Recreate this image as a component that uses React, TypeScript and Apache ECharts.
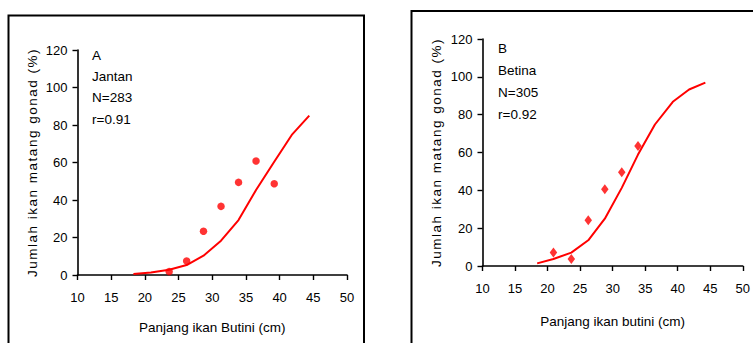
import React, { useEffect, useRef } from "react";
import * as echarts from "echarts";

// Panel A (Jantan)
const lengthsA = [23.6, 26.2, 28.7, 31.3, 33.9, 36.5, 39.2];
const observedA = [1.8, 7.5, 23.3, 36.6, 49.4, 60.8, 48.7];
const curveLengthsA = [18.3, 20.9, 23.6, 26.2, 28.7, 31.3, 33.9, 36.5, 39.2, 41.8, 44.4];
const fittedA = [0.5, 1.3, 2.8, 5.3, 10.3, 18.3, 29.3, 45.3, 60.4, 74.7, 85.0];

// Panel B (Betina)
const lengthsB = [20.9, 23.65, 26.25, 28.8, 31.4, 33.9];
const observedB = [7.1, 3.7, 24.2, 40.6, 49.6, 63.4];
const curveLengthsB = [18.4, 20.9, 23.65, 26.25, 28.8, 31.4, 33.9, 36.5, 39.25, 41.75, 44.25];
const fittedB = [1.4, 3.7, 7.1, 13.6, 25.0, 41.3, 58.9, 74.8, 86.8, 93.3, 96.9];

const notesA = ["A", "Jantan", "N=283", "r=0.91"];
const notesB = ["B", "Betina", "N=305", "r=0.92"];

const Y_TITLE = "Jumlah ikan matang gonad (%)";
const X_TITLE_A = "Panjang ikan Butini (cm)";
const X_TITLE_B = "Panjang ikan butini (cm)";

const FONT = "'Liberation Sans', Arial, sans-serif";

export default function App() {
  const ref = useRef<HTMLDivElement>(null);
  useEffect(() => {
    if (!ref.current) return;
    const chart = echarts.init(ref.current, null, { renderer: "svg" });

    const xAxisBase = (gridIndex: number, name: string, nameGap: number) => ({
      type: "value",
      gridIndex,
      min: 10,
      max: 50,
      interval: 5,
      name,
      nameLocation: "middle",
      nameGap,
      nameTextStyle: { color: "#000", fontSize: 13.5, fontFamily: FONT },
      axisLine: { show: true, onZero: true, lineStyle: { color: "#000", width: 1.6 } },
      axisTick: { show: true, length: 5, lineStyle: { color: "#000", width: 1.4 } },
      axisLabel: { color: "#000", fontSize: 13, fontFamily: FONT, margin: 16 },
      splitLine: { show: false },
    });
    const yAxisBase = (gridIndex: number, nameGap: number) => ({
      type: "value",
      gridIndex,
      min: 0,
      max: 120,
      interval: 20,
      name: Y_TITLE,
      nameLocation: "middle",
      nameGap,
      nameTextStyle: { color: "#000", fontSize: 13.5, fontFamily: FONT },
      axisLine: { show: true, lineStyle: { color: "#000", width: 1.6 } },
      axisTick: { show: true, length: 5, lineStyle: { color: "#000", width: 1.4 } },
      axisLabel: { color: "#000", fontSize: 13, fontFamily: FONT, margin: 10 },
      splitLine: { show: false },
    });

    const noteTexts = (notes: string[], x: number, ys: number[]) =>
      notes.map((t, i) => ({
        type: "text",
        x,
        y: ys[i],
        style: {
          text: t,
          fill: "#000",
          font: `13.5px ${FONT}`,
          verticalAlign: "middle",
          align: "left",
        },
      }));

    chart.setOption({
      animation: false,
      backgroundColor: "#fff",
      grid: [
        { left: 77.5, top: 50, width: 269.5, height: 225 },
        { left: 482.5, top: 39, width: 265.5, height: 227 },
      ],
      xAxis: [xAxisBase(0, X_TITLE_A, 45), xAxisBase(1, X_TITLE_B, 48)],
      yAxis: [yAxisBase(0, 38), yAxisBase(1, 39)],
      graphic: [
        {
          type: "rect",
          shape: { x: 8.5, y: 15.5, width: 355.5, height: 400 },
          style: { fill: "none", stroke: "#000", lineWidth: 2 },
          silent: true,
        },
        {
          type: "rect",
          shape: { x: 411.5, y: 11, width: 400, height: 400 },
          style: { fill: "none", stroke: "#000", lineWidth: 2 },
          silent: true,
        },
        ...noteTexts(notesA, 92, [55, 76.5, 97.5, 119]),
        ...noteTexts(notesB, 498, [48, 70.5, 92.5, 114.5]),
      ],
      series: [
        {
          type: "line",
          xAxisIndex: 0,
          yAxisIndex: 0,
          data: curveLengthsA.map((x, i) => [x, fittedA[i]]),
          showSymbol: false,
          lineStyle: { color: "#ff0000", width: 2 },
          z: 2,
        },
        {
          type: "scatter",
          xAxisIndex: 0,
          yAxisIndex: 0,
          data: lengthsA.map((x, i) => [x, observedA[i]]),
          symbol: "circle",
          symbolSize: 7.5,
          itemStyle: { color: "#ff0000" },
          z: 3,
        },
        {
          type: "line",
          xAxisIndex: 1,
          yAxisIndex: 1,
          data: curveLengthsB.map((x, i) => [x, fittedB[i]]),
          showSymbol: false,
          lineStyle: { color: "#ff0000", width: 2 },
          z: 2,
        },
        {
          type: "scatter",
          xAxisIndex: 1,
          yAxisIndex: 1,
          data: lengthsB.map((x, i) => [x, observedB[i]]),
          symbol: "diamond",
          symbolSize: [7.5, 10],
          itemStyle: { color: "#ff0000" },
          z: 3,
        },
      ],
    });

    const spaceTitles = () => {
      if (!ref.current) return;
      ref.current.querySelectorAll("text").forEach((t) => {
        if ((t.textContent || "").indexOf("Jumlah") === 0) {
          (t as SVGTextElement).style.letterSpacing = "1.5px";
        }
      });
    };
    spaceTitles();
    chart.on("finished", spaceTitles);

    return () => {
      chart.dispose();
    };
  }, []);

  return (
    <div
      ref={ref}
      style={{ position: "absolute", left: 0, top: 0, width: 753, height: 343, background: "#fff" }}
    />
  );
}
